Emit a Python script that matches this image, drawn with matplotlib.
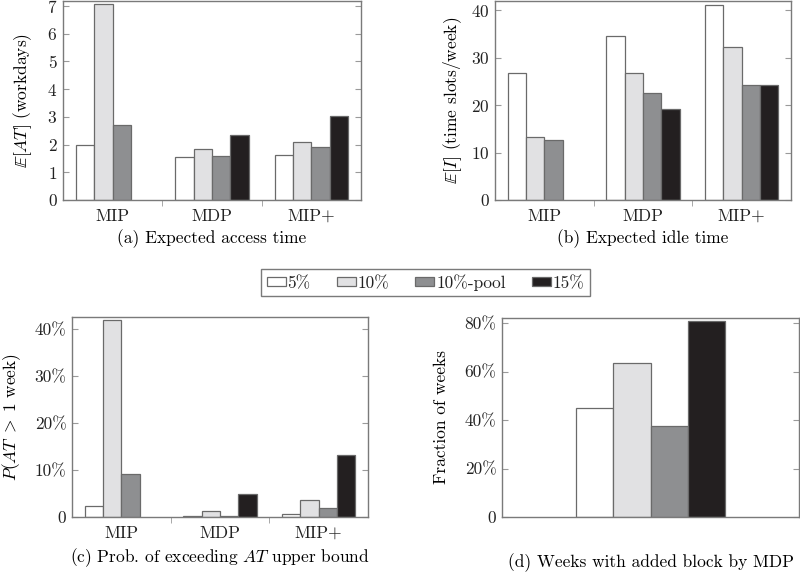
import numpy as np
import matplotlib
matplotlib.use("Agg")
import matplotlib.pyplot as plt
from matplotlib.patches import Patch
from matplotlib.ticker import FixedLocator, FuncFormatter

plt.rcParams['font.family'] = ['cmr10', 'DejaVu Serif']
plt.rcParams['mathtext.fontset'] = 'cm'
plt.rcParams['axes.unicode_minus'] = False
plt.rcParams['axes.formatter.use_mathtext'] = True
plt.rcParams['text.color'] = '#222222'
plt.rcParams['xtick.labelcolor'] = '#222222'
plt.rcParams['ytick.labelcolor'] = '#222222'

methods = ['MIP', 'MDP', 'MIP+']
series = ['5%', '10%', '10%-pool', '15%']
colors = ['#ffffff', '#e1e1e3', '#8e8f91', '#231f20']

# expected access time (workdays); nan = no bar
access_time = {
    '5%':       [2.0, 1.55, 1.62],
    '10%':      [7.06, 1.85, 2.08],
    '10%-pool': [2.71, 1.60, 1.92],
    '15%':      [np.nan, 2.36, 3.02],
}
# expected idle time (time slots/week)
idle_time = {
    '5%':       [26.9, 34.6, 41.2],
    '10%':      [13.3, 26.8, 32.3],
    '10%-pool': [12.6, 22.5, 24.3],
    '15%':      [np.nan, 19.3, 24.3],
}
# probability AT > 1 week (percent)
prob_exceed = {
    '5%':       [2.35, 0.15, 0.7],
    '10%':      [41.9, 1.3, 3.55],
    '10%-pool': [9.1, 0.15, 2.0],
    '15%':      [np.nan, 4.85, 13.2],
}
# weeks with added block by MDP (percent)
weeks_added = [44.9, 63.4, 37.6, 80.8]

W, H = 800, 573
fig = plt.figure(figsize=(8, 5.73), dpi=100)


def px_axes(x0, y0, x1, y1):
    return fig.add_axes([x0 / W, 1 - y1 / H, (x1 - x0) / W, (y1 - y0) / H])


def style(ax, ylab_x):
    for s in ax.spines.values():
        s.set_color('#7a7a7a')
        s.set_linewidth(1.0)
    ax.tick_params(axis='y', direction='in', right=True, length=4,
                   color='#9a9a9a', labelsize=12.5, pad=4)
    ax.tick_params(axis='x', which='major', length=0, labelsize=12.5, pad=6)
    ax.tick_params(axis='x', which='minor', direction='out', length=4,
                   color='#9a9a9a')
    # label coordinate is the right edge of the rotated label
    ax.yaxis.set_label_coords(ylab_x, 0.5)


def grouped(ax, data, ylim, yticks, ylabel, caption, ylab_x, fmt=None):
    w = 0.185
    x = np.arange(len(methods))
    for i, s in enumerate(series):
        ax.bar(x + (i - 1.5) * w, data[s], width=w, color=colors[i],
               edgecolor='#6a6a6a', linewidth=0.9)
    ax.set_xlim(-0.5, 2.5)
    ax.set_ylim(*ylim)
    ax.set_xticks(x)
    ax.set_xticklabels(methods)
    ax.xaxis.set_minor_locator(FixedLocator([0.5, 1.5]))
    ax.set_yticks(yticks)
    if fmt:
        ax.yaxis.set_major_formatter(FuncFormatter(fmt))
    ax.set_ylabel(ylabel, fontsize=12.5)
    ax.set_xlabel(caption, fontsize=12.5, labelpad=4)
    style(ax, ylab_x)


def pct(v, _):
    return '0' if v == 0 else '%d%%' % v


ax_a = px_axes(63, 1, 361, 200)
grouped(ax_a, access_time, (0, 7.18), range(0, 8),
        r'$\mathbb{E}[AT]$ (workdays)', '(a) Expected access time', -0.097)

ax_b = px_axes(495, 1, 791, 200)
grouped(ax_b, idle_time, (0, 42), range(0, 41, 10),
        r'$\mathbb{E}[I]$ (time slots/week)', '(b) Expected idle time', -0.105)

ax_c = px_axes(72, 317, 368, 517)
grouped(ax_c, prob_exceed, (0, 42.6), range(0, 41, 10),
        r'$P(AT\;>\;1$ week$)$', r'(c) Prob. of exceeding $AT$ upper bound',
        -0.165, pct)

ax_d = px_axes(502, 318, 799, 517)
wd = 0.125
for i, s in enumerate(series):
    ax_d.bar((i - 1.5) * wd, weeks_added[i], width=wd, color=colors[i],
             edgecolor='#6a6a6a', linewidth=0.9)
ax_d.set_xlim(-0.5, 0.5)
ax_d.set_ylim(0, 82.1)
ax_d.set_xticks([])
ax_d.set_yticks(range(0, 81, 20))
ax_d.yaxis.set_major_formatter(FuncFormatter(pct))
ax_d.set_ylabel('Fraction of weeks', fontsize=12.5)
ax_d.set_xlabel('(d) Weeks with added block by MDP', fontsize=12.5, labelpad=26)
style(ax_d, -0.178)

handles = [Patch(facecolor=colors[i], edgecolor='#6a6a6a', linewidth=0.9,
                 label=s) for i, s in enumerate(series)]
leg = fig.legend(handles=handles, loc='center', ncol=4,
                 bbox_to_anchor=(425.5 / W, 1 - 282.5 / H), fontsize=12.5,
                 frameon=True, fancybox=False, framealpha=1,
                 edgecolor='#7a7a7a', handlelength=1.1, handleheight=0.45,
                 handletextpad=0.1, columnspacing=1.5, borderpad=0.3,
                 borderaxespad=0)
leg.get_frame().set_linewidth(1.0)

fig.savefig('out.png', dpi=100)
